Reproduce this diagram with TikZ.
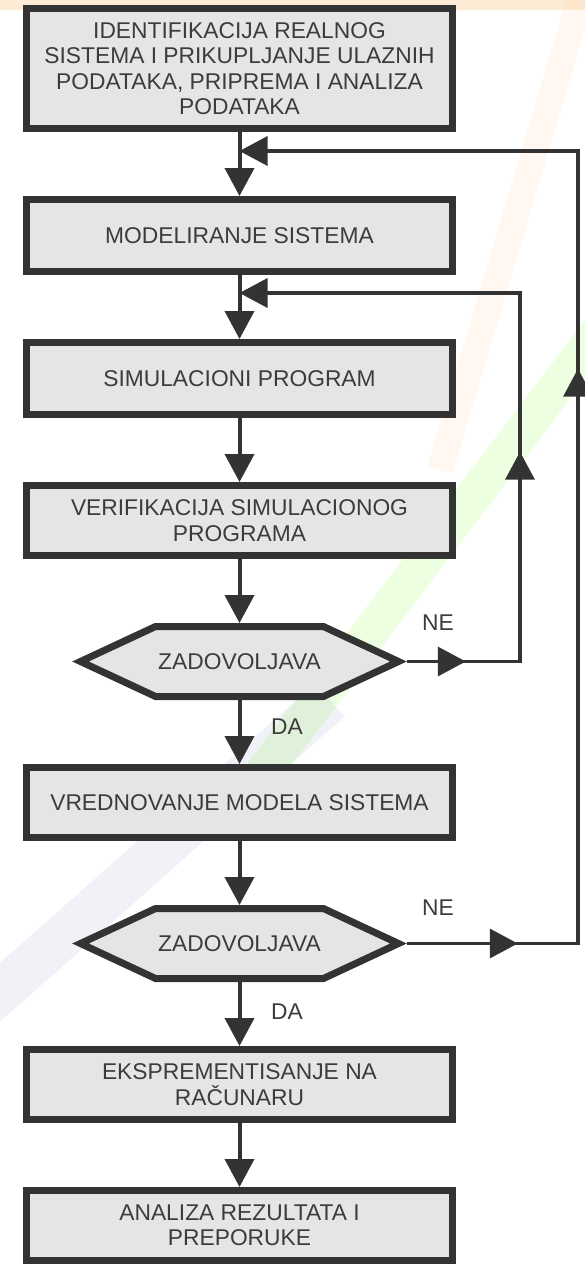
\documentclass[tikz,border=0pt]{standalone}
\usepackage{fontspec}
\setmainfont{Liberation Sans}
\usepackage{tikz}
\usetikzlibrary{arrows.meta, positioning, shapes.symbols, decorations.markings}

\definecolor{boxgray}{RGB}{229,229,229}
\definecolor{edgegray}{RGB}{51,51,51}
\definecolor{textgray}{RGB}{60,60,60}
\definecolor{topband}{RGB}{252,236,214}

\begin{document}
\begin{tikzpicture}[>={Triangle[length=28pt,width=29pt]}, node distance=64pt]
    \tikzstyle{stage} = [draw=edgegray, line width=7pt, fill=boxgray, text=textgray,
        minimum width=426pt, minimum height=72pt, align=center, inner sep=2pt,
        font=\fontsize{22.8pt}{25.5pt}\selectfont]
    \tikzstyle{check} = [stage, shape=signal, signal to=east and west,
        signal pointer angle=50, minimum width=318pt, minimum height=70pt]
    \tikzstyle{flow} = [->, draw=edgegray, color=edgegray, line width=4pt]
    \tikzstyle{back} = [flow, line width=3.5pt]
    \tikzstyle{tag} = [text=textgray, font=\fontsize{22.8pt}{25.5pt}\selectfont]
    \tikzset{tipat/.style={postaction={decorate, decoration={markings,
        mark=at position #1 with {\arrow{>}}}}}}
    % page and faint background streaks
    \useasboundingbox (0,0) rectangle (585pt,-1264pt);
    \fill[white] (0,0) rectangle (585pt,-1264pt);
    \fill[topband] (0,0) rectangle (585pt,-10pt);
    \draw[orange!40, line width=26pt, opacity=0.14] (580pt,0pt) -- (440pt,-470pt);
    \draw[green!60!yellow, line width=36pt, opacity=0.12] (600pt,-330pt) -- (250pt,-790pt);
    \draw[blue!30!gray, line width=44pt, opacity=0.08] (-20pt,-1010pt) -- (330pt,-700pt);
    \node [stage, minimum height=120pt] at (239.5pt,-68.5pt) (identify) {IDENTIFIKACIJA REALNOG\\SISTEMA I PRIKUPLJANJE ULAZNIH\\PODATAKA, PRIPREMA I ANALIZA\\PODATAKA};
    \node [stage, below=of identify] (modeling) {MODELIRANJE SISTEMA};
    \node [stage, below=of modeling] (simprog) {SIMULACIONI PROGRAM};
    \node [stage, minimum height=70pt, below=of simprog] (verify) {VERIFIKACIJA SIMULACIONOG\\PROGRAMA};
    \node [check, below=of verify] (okverify) {ZADOVOLJAVA};
    \node [stage, minimum height=70pt, below=of okverify] (evaluate) {VREDNOVANJE MODELA SISTEMA};
    \node [check, below=of evaluate] (okeval) {ZADOVOLJAVA};
    \node [stage, minimum height=70pt, below=of okeval] (experiment) {EKSPREMENTISANJE NA\\RAČUNARU};
    \node [stage, minimum height=70pt, below=of experiment] (analysis) {ANALIZA REZULTATA I\\PREPORUKE};
    \coordinate (join1) at ([yshift=-19pt]identify.south);
    \coordinate (join2) at ([yshift=-18pt]modeling.south);
    \coordinate (rail1) at (520pt,0);
    \coordinate (rail2) at (578pt,0);
    \node [tag] at (438pt,-623pt) (nefirst) {NE};
    \node [tag] at (287pt,-727pt) (dafirst) {DA};
    \node [tag] at (438pt,-908pt) (nesecond) {NE};
    \node [tag] at (287pt,-1012pt) (dasecond) {DA};
    \draw[flow] (identify.south) to (modeling.north);
    \draw[flow] (modeling.south) to (simprog.north);
    \draw[flow] (simprog.south) to (verify.north);
    \draw[flow] (verify.south) to (okverify.north);
    \draw[flow] (okverify.south) to (evaluate.north);
    \draw[flow] (evaluate.south) to (okeval.north);
    \draw[flow] (okeval.south) to (experiment.north);
    \draw[flow] (experiment.south) to (analysis.north);
    \draw[back, line join=miter, tipat=59pt, tipat=323pt] (okverify.east) -- (okverify.east -| rail1)
        -- (join2 -| rail1) -- (join2);
    \draw[back, line join=miter, tipat=111pt, tipat=746pt] (okeval.east) -- (okeval.east -| rail2)
        -- (join1 -| rail2) -- (join1);
\end{tikzpicture}
\end{document}
